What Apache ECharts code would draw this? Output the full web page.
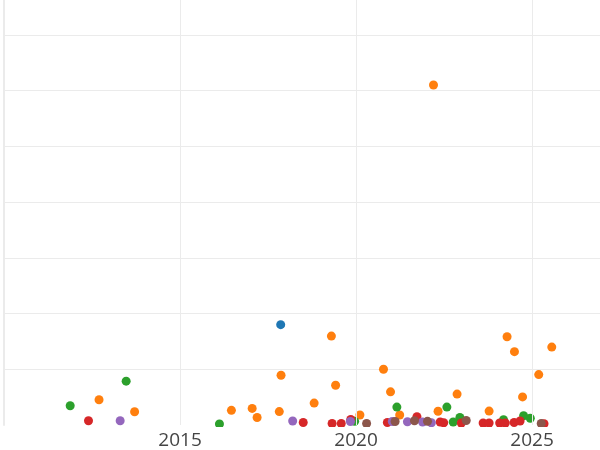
<!DOCTYPE html>
<html><head><meta charset="utf-8">
<script src="https://cdn.jsdelivr.net/npm/echarts@6/dist/echarts.min.js"></script>
<style>html,body{margin:0;padding:0;background:#fff}#c{width:600px;height:450px}</style>
</head><body><div id="c"></div>
<script>
// x tick labels shown on the axis
const xTickLabels = [2015, 2020, 2025];

// series values (year, value)
const blueX = [2017.86];
const blueY = [18.0];

const orangeX = [2012.70, 2013.71, 2016.46, 2017.05, 2017.19, 2017.82, 2017.87, 2018.81, 2019.30, 2019.42,
                 2020.11, 2020.78, 2020.98, 2021.24, 2022.20, 2022.33, 2022.87, 2023.78, 2024.29, 2024.50,
                 2024.73, 2025.19, 2025.56];
const orangeY = [4.52, 2.38, 2.63, 2.98, 1.34, 2.41, 8.93, 3.93, 15.95, 7.14,
                 1.79, 10.0, 5.95, 1.79, 61.0, 2.46, 5.54, 2.5, 15.84, 13.16,
                 5.04, 9.05, 13.98];

const greenX = [2011.88, 2013.47, 2016.12, 2019.96, 2021.16, 2022.58, 2022.76, 2022.95, 2024.19, 2024.76, 2024.95];
const greenY = [3.45, 7.86, 0.18, 0.66, 3.21, 3.21, 0.54, 1.34, 0.95, 1.66, 1.21];

const redX = [2012.40, 2018.50, 2019.32, 2019.58, 2019.85, 2020.89, 2021.73, 2022.39, 2022.49, 2022.99,
              2023.61, 2023.78, 2024.08, 2024.24, 2024.49, 2024.66, 2025.34];
const redY = [0.77, 0.45, 0.27, 0.27, 0.98, 0.45, 1.48, 0.54, 0.41, 0.36,
              0.36, 0.36, 0.36, 0.36, 0.45, 0.71, 0.23];

const purpleX = [2013.30, 2018.20, 2019.84, 2021.03, 2021.46, 2021.89, 2022.14];
const purpleY = [0.77, 0.71, 0.63, 0.63, 0.59, 0.54, 0.41];

const brownX = [2020.30, 2021.11, 2021.66, 2022.03, 2023.13, 2025.26];
const brownY = [0.27, 0.63, 0.77, 0.66, 0.80, 0.27];

const seriesNames = ['A', 'B', 'C', 'D', 'E', 'F'];
const seriesColors = ['#1f77b4', '#ff7f0e', '#2ca02c', '#d62728', '#9467bd', '#8c564b'];
const seriesXs = [blueX, orangeX, greenX, redX, purpleX, brownX];
const seriesYs = [blueY, orangeY, greenY, redY, purpleY, brownY];

const chart = echarts.init(document.getElementById('c'), null, {renderer: 'canvas'});
const grid = '#ebebeb';
const gridBottom = 23;
chart.setOption({
  animation: false,
  backgroundColor: '#fff',
  grid: {left: 4, right: 0, top: 0, bottom: gridBottom},
  // white band below the plot area so markers are clipped at the plot edge
  graphic: [{
    type: 'rect', z: 5, silent: true,
    shape: {x: 0, y: 450 - gridBottom, width: 600, height: gridBottom},
    style: {fill: '#fff'}
  }],
  xAxis: {
    type: 'value', min: 2010, max: 2026.93, interval: 5, z: 10,
    axisLine: {show: false}, axisTick: {show: false},
    splitLine: {show: true, showMinLine: false, showMaxLine: false, lineStyle: {color: grid, width: 1}},
    axisLabel: {
      color: '#444', fontFamily: 'Open Sans', fontSize: 19, margin: 6,
      showMinLabel: false, showMaxLabel: false,
      formatter: v => xTickLabels.includes(v) ? String(v) : ''
    }
  },
  yAxis: {
    type: 'value', min: 0, max: 76.25, interval: 10,
    axisLine: {show: true, onZero: false, lineStyle: {color: grid, width: 2}},
    axisTick: {show: false}, axisLabel: {show: false},
    splitLine: {show: true, showMinLine: false, showMaxLine: false, lineStyle: {color: grid, width: 1}}
  },
  series: seriesNames.map((n, i) => ({
    name: n, type: 'scatter', symbol: 'circle', symbolSize: 9, z: 2,
    itemStyle: {color: seriesColors[i], opacity: 1},
    data: seriesXs[i].map((x, j) => [x, seriesYs[i][j]])
  }))
});
</script></body></html>
